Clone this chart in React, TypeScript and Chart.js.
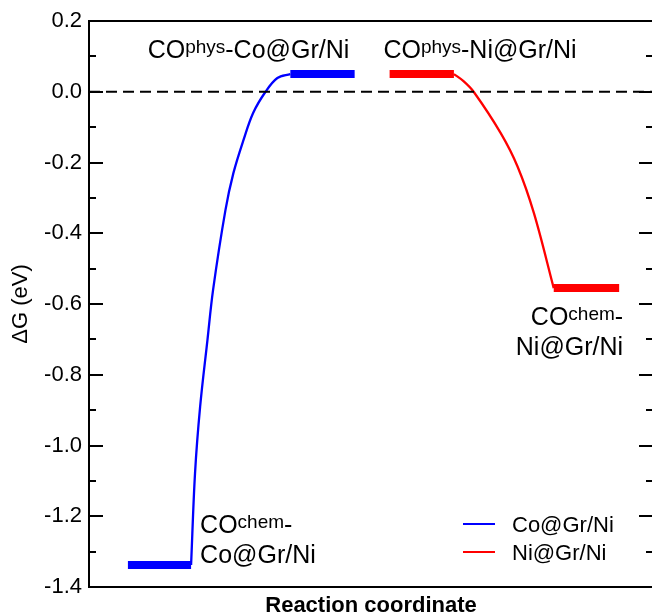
import React, { useEffect, useRef } from "react";
import { Chart, registerables } from "chart.js";

Chart.register(...registerables);

const FONT = "'Liberation Sans', Arial, Helvetica, sans-serif";

// Axis ticks
const yTickValues = [0.2, 0.0, -0.2, -0.4, -0.6, -0.8, -1.0, -1.2, -1.4];
const yTickLabels = ["0.2", "0.0", "-0.2", "-0.4", "-0.6", "-0.8", "-1.0", "-1.2", "-1.4"];
const yMinorTickValues = [0.1, -0.1, -0.3, -0.5, -0.7, -0.9, -1.1, -1.3];

// Series
const seriesNames = ["Co@Gr/Ni", "Ni@Gr/Ni"];
const seriesColors = ["#0000ff", "#ff0000"];

// Co@Gr/Ni path
const coChemX = [6.9, 18.1];
const coChemY = [-1.338, -1.338];
const coCurveX = [18.1, 18.8, 19.7, 21.0, 22.0, 24.2, 25.6, 27.4, 29.1, 31.3, 33.4, 35.7];
const coCurveY = [-1.338, -1.078, -0.891, -0.702, -0.56, -0.334, -0.23, -0.136, -0.06, 0.0, 0.039, 0.05];
const coPhysX = [35.7, 47.1];
const coPhysY = [0.05, 0.05];

// Ni@Gr/Ni path
const niPhysX = [53.3, 64.7];
const niPhysY = [0.05, 0.05];
const niCurveX = [64.7, 66.4, 68.2, 73.0, 76.0, 78.9, 82.4];
const niCurveY = [0.05, 0.03, 0.0, -0.117, -0.212, -0.344, -0.555];
const niChemX = [82.4, 94.0];
const niChemY = [-0.555, -0.555];

// Reference line
const zeroLineX = [0, 100];
const zeroLineY = [0, 0];

// State labels: [main, superscript, rest]
const stateLabelParts = [
  ["CO", "phys", "-Co@Gr/Ni"],
  ["CO", "phys", "-Ni@Gr/Ni"],
  ["CO", "chem", "-"],
  ["Co@Gr/Ni", "", ""],
  ["CO", "chem", "-"],
  ["Ni@Gr/Ni", "", ""],
];
// anchors in data units (x, baseline y) and alignment
const stateLabelX = [10.4, 52.2, 19.7, 19.7, 94.7, 94.7];
const stateLabelY = [0.095, 0.095, -1.247, -1.332, -0.659, -0.744];
const stateLabelAlign = ["left", "left", "left", "left", "right", "right"];

const pts = (xs: number[], ys: number[]) => xs.map((x, i) => ({ x, y: ys[i] }));

const decorPlugin = {
  id: "decor",
  afterDraw(chart: any) {
    const { ctx, chartArea, scales } = chart;
    const { left, right, top, bottom } = chartArea;
    const ys = scales.y;
    const xs = scales.x;
    ctx.save();
    // frame: top, left, bottom (right side lies outside the picture)
    ctx.strokeStyle = "#000";
    ctx.lineWidth = 2;
    ctx.beginPath();
    ctx.moveTo(right + 2, top);
    ctx.lineTo(left, top);
    ctx.lineTo(left, bottom);
    ctx.lineTo(right + 2, bottom);
    ctx.stroke();
    // ticks
    const drawTick = (v: number, len: number) => {
      const py = Math.round(ys.getPixelForValue(v));
      ctx.beginPath();
      ctx.moveTo(left, py);
      ctx.lineTo(left + len, py);
      ctx.moveTo(right, py);
      ctx.lineTo(right - len, py);
      ctx.stroke();
    };
    yTickValues.forEach((v) => drawTick(v, 14));
    yMinorTickValues.forEach((v) => drawTick(v, 7));

    // state labels
    ctx.fillStyle = "#000";
    ctx.textBaseline = "alphabetic";
    const mainFont = `25px ${FONT}`;
    const supFont = `19px ${FONT}`;
    stateLabelParts.forEach((parts, i) => {
      const [a, s, b] = parts;
      ctx.font = mainFont;
      const wa = ctx.measureText(a).width;
      const wb = ctx.measureText(b).width;
      ctx.font = supFont;
      const ws = ctx.measureText(s).width;
      const total = wa + ws + wb;
      let px = xs.getPixelForValue(stateLabelX[i]);
      const py = ys.getPixelForValue(stateLabelY[i]);
      if (stateLabelAlign[i] === "right") px -= total;
      ctx.textAlign = "left";
      ctx.font = mainFont;
      ctx.fillText(a, px, py);
      ctx.font = supFont;
      ctx.fillText(s, px + wa, py - 5);
      ctx.font = mainFont;
      ctx.fillText(b, px + wa + ws, py);
    });

    // legend
    ctx.font = `22px ${FONT}`;
    seriesNames.forEach((name, i) => {
      const ly = bottom - 63 + i * 28;
      ctx.strokeStyle = seriesColors[i];
      ctx.lineWidth = 2;
      ctx.beginPath();
      ctx.moveTo(right - 190, ly);
      ctx.lineTo(right - 158, ly);
      ctx.stroke();
      ctx.fillStyle = "#000";
      ctx.fillText(name, right - 141, ly + 8);
    });
    ctx.restore();
  },
};

export default function App() {
  const ref = useRef<HTMLCanvasElement | null>(null);
  useEffect(() => {
    if (!ref.current) return;
    Chart.defaults.font.family = FONT;
    const thick = (xs: number[], ys: number[], color: string) => ({
      data: pts(xs, ys),
      borderColor: color,
      backgroundColor: color,
      borderWidth: 8,
      borderCapStyle: "butt",
      showLine: true,
      pointRadius: 0,
      fill: false,
    });
    const curve = (xs: number[], ys: number[], color: string) => ({
      data: pts(xs, ys),
      borderColor: color,
      backgroundColor: color,
      borderWidth: 2.3,
      showLine: true,
      pointRadius: 0,
      fill: false,
      tension: 0.35,
    });
    const chart = new Chart(ref.current, {
      type: "scatter",
      data: {
        datasets: [
          {
            data: pts(zeroLineX, zeroLineY),
            borderColor: "#000",
            borderWidth: 1.8,
            borderDash: [11, 6],
            showLine: true,
            pointRadius: 0,
            fill: false,
          } as any,
          thick(coChemX, coChemY, seriesColors[0]),
          curve(coCurveX, coCurveY, seriesColors[0]),
          thick(coPhysX, coPhysY, seriesColors[0]),
          thick(niPhysX, niPhysY, seriesColors[1]),
          curve(niCurveX, niCurveY, seriesColors[1]),
          thick(niChemX, niChemY, seriesColors[1]),
        ],
      },
      options: {
        animation: false,
        responsive: false,
        events: [],
        layout: { padding: { top: 21, right: 7, left: 0, bottom: 0 } },
        plugins: { legend: { display: false }, tooltip: { enabled: false } },
        scales: {
          x: {
            type: "linear",
            min: 0,
            max: 100,
            grid: { display: false, drawTicks: false },
            border: { display: false },
            ticks: { display: false },
            title: {
              display: true,
              text: "Reaction coordinate",
              color: "#000",
              font: { size: 22, weight: "bold", family: FONT },
              padding: { top: 0, bottom: -5 },
            },
            afterFit: (s: any) => {
              s.height = 27;
            },
          },
          y: {
            type: "linear",
            min: -1.4,
            max: 0.2,
            grid: { display: false, drawTicks: false },
            border: { display: false },
            afterBuildTicks: (s: any) => {
              s.ticks = yTickValues.map((v) => ({ value: v }));
            },
            ticks: {
              autoSkip: false,
              padding: 7,
              color: "#000",
              font: { size: 22, family: FONT },
              callback: (v: any) => {
                const i = yTickValues.findIndex((t) => Math.abs(t - Number(v)) < 1e-9);
                return i >= 0 ? yTickLabels[i] : "";
              },
            },
            title: {
              display: true,
              text: "ΔG (eV)",
              color: "#000",
              font: { size: 22, family: FONT },
              padding: { top: 8, bottom: 0 },
            },
            afterFit: (s: any) => {
              s.width = 89;
            },
          },
        },
      } as any,
      plugins: [decorPlugin],
    });
    return () => chart.destroy();
  }, []);
  return (
    <div
      style={{
        position: "fixed",
        left: 0,
        top: 0,
        width: 652,
        height: 614,
        overflow: "hidden",
        background: "#fff",
      }}
    >
      <div style={{ width: 660, height: 614 }}>
        <canvas ref={ref} width={660} height={614} style={{ display: "block" }} />
      </div>
    </div>
  );
}
